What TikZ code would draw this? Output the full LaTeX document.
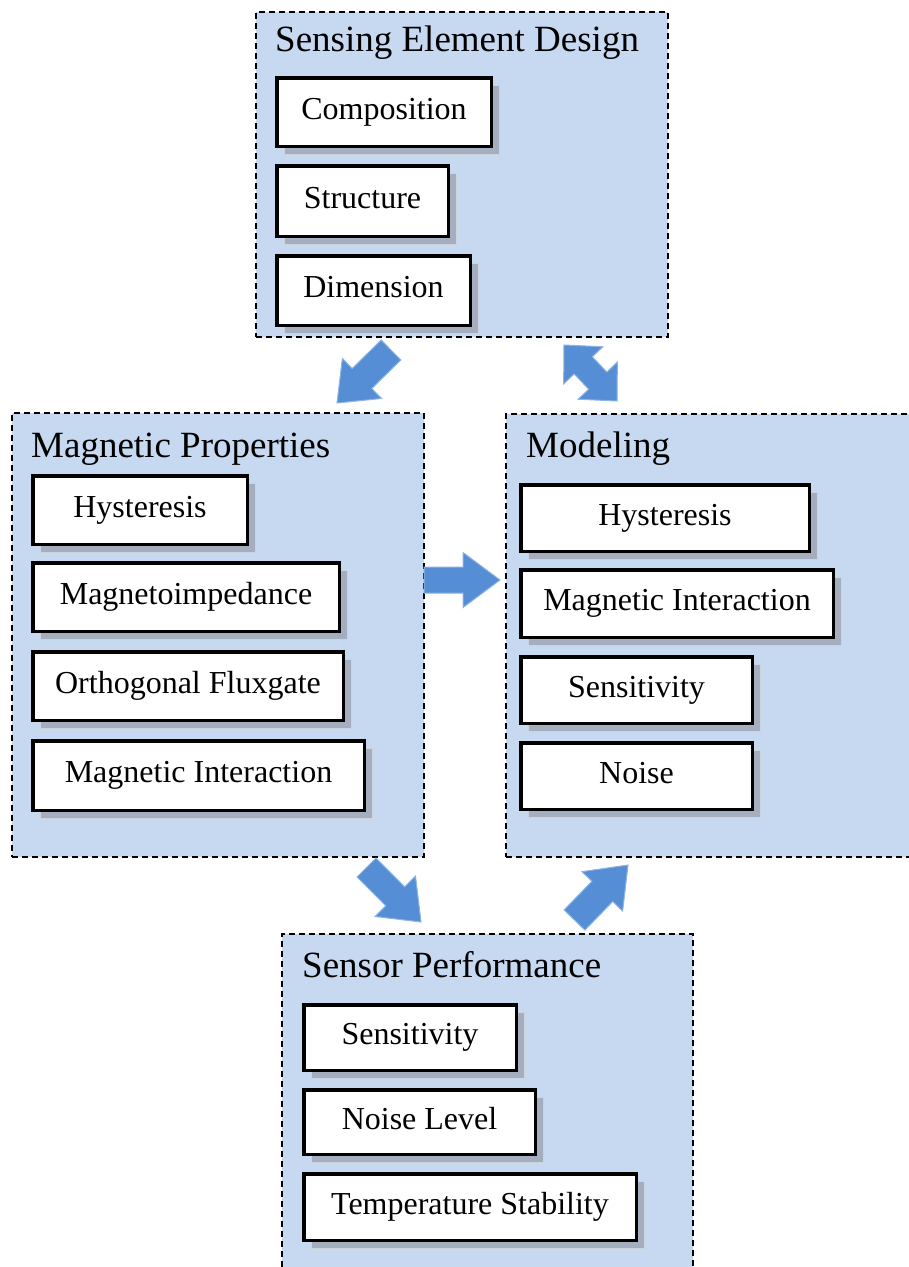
\documentclass[tikz,border=0pt]{standalone}
\usepackage{fontspec}
\setmainfont{Liberation Serif}
\usetikzlibrary{calc,shadows}
\definecolor{grpfill}{HTML}{C6D9F1}
\definecolor{arrfill}{HTML}{558ED5}
\definecolor{arredge}{HTML}{8EB4E3}
\definecolor{shadowfill}{HTML}{A5AEBE}
\definecolor{shadowedge}{HTML}{CDD3DC}
\tikzset{
  grp/.style={draw=black, fill=grpfill, line width=1.5pt, dash pattern=on 6pt off 4pt, inner sep=0pt},
  ttl/.style={anchor=base west, inner sep=0pt, font=\fontsize{37}{44}\selectfont},
  itm/.style={draw=black, fill=white, line width=3.5pt, inner sep=0pt,
    font=\fontsize{32}{38}\selectfont, text height=22.4pt, text depth=8pt,
    drop shadow={shadow xshift=8pt, shadow yshift=-8pt, fill=shadowfill, draw=shadowedge, line width=1pt, opacity=1}},
  blk/.style={fill=arrfill, draw=arredge, line width=1pt, line join=miter}
}
\newcommand{\itembx}[6]{\node[itm, minimum width={#4-#2-3.5}, minimum height={#5-#3-3.5}] (#1) at ({(#2+#4)/2},{(#3+#5)/2}) {#6};}
\newcommand{\grpbx}[5]{\node[grp, minimum width={#4-#2}, minimum height={#5-#3}] (#1) at ({(#2+#4)/2},{(#3+#5)/2}) {};}
\newcommand{\blkarrow}[5]{%
  \path ($(#2)!#5!(#1)$) coordinate (hb);
  \draw[blk] ($(#1)!#3!90:(#2)$) -- ($(hb)!#3!90:(#2)$) -- ($(hb)!#4!90:(#2)$) -- (#2)
    -- ($(hb)!#4!-90:(#2)$) -- ($(hb)!#3!-90:(#2)$) -- ($(#1)!#3!-90:(#2)$) -- cycle;}
\newcommand{\dblarrow}[5]{%
  \path ($(#1)!#5!(#2)$) coordinate (hba) ($(#2)!#5!(#1)$) coordinate (hbb);
  \draw[blk] (#1) -- ($(hba)!#4!90:(#2)$) -- ($(hba)!#3!90:(#2)$) -- ($(hbb)!#3!-90:(#1)$)
    -- ($(hbb)!#4!-90:(#1)$) -- (#2) -- ($(hbb)!#4!90:(#1)$) -- ($(hbb)!#3!90:(#1)$)
    -- ($(hba)!#3!-90:(#2)$) -- ($(hba)!#4!-90:(#2)$) -- cycle;}
\begin{document}
\begin{tikzpicture}[x=1pt, y=-1pt]
\useasboundingbox (0,0) rectangle (909,1267);
\fill[white] (0,0) rectangle (909,1267);
% groups
\grpbx{sed}{256}{12}{668}{337}
\grpbx{mag}{12}{413}{424}{857}
\grpbx{mod}{506}{414}{915}{857}
\grpbx{sen}{282}{934}{693}{1275}
% titles
\node[ttl] (tsed) at (275,51) {Sensing Element Design};
\node[ttl] (tmag) at (31,457) {Magnetic Properties};
\node[ttl] (tmod) at (526,457) {Modeling};
\node[ttl] (tsen) at (302,977) {Sensor Performance};
% arrows
\coordinate (a1s) at (391,350); \coordinate (a1e) at (337,403);
\coordinate (a2s) at (564,345); \coordinate (a2e) at (617,401);
\coordinate (a3s) at (424,580); \coordinate (a3e) at (500,580);
\coordinate (a4s) at (366.5,867.5); \coordinate (a4e) at (421,922);
\coordinate (a5s) at (574.5,920); \coordinate (a5e) at (628,865);
\blkarrow{a1s}{a1e}{14pt}{28pt}{35pt}
\dblarrow{a2s}{a2e}{12.5pt}{27pt}{28pt}
\blkarrow{a3s}{a3e}{13pt}{27.5pt}{37pt}
\blkarrow{a4s}{a4e}{13.4pt}{28.6pt}{36.4pt}
\blkarrow{a5s}{a5e}{14.5pt}{28.3pt}{36.8pt}
% items
\itembx{c1}{275}{76}{493}{148}{Composition}
\itembx{c2}{275}{164}{450}{238}{Structure}
\itembx{c3}{275}{254}{472}{327}{Dimension}
\itembx{m1}{31}{474}{249}{546}{Hysteresis}
\itembx{m2}{31}{561}{341}{633}{Magnetoimpedance}
\itembx{m3}{31}{650}{345}{722}{Orthogonal Fluxgate}
\itembx{m4}{31}{739}{366}{812}{Magnetic Interaction}
\itembx{d1}{519}{483}{811}{553}{Hysteresis}
\itembx{d2}{519}{568}{835}{639}{Magnetic Interaction}
\itembx{d3}{519}{655}{754}{725}{Sensitivity}
\itembx{d4}{519}{741}{754}{811}{Noise}
\itembx{p1}{302}{1003}{518}{1072}{Sensitivity}
\itembx{p2}{302}{1088}{537}{1156}{Noise Level}
\itembx{p3}{302}{1172}{638}{1242}{Temperature Stability}
\end{tikzpicture}
\end{document}
